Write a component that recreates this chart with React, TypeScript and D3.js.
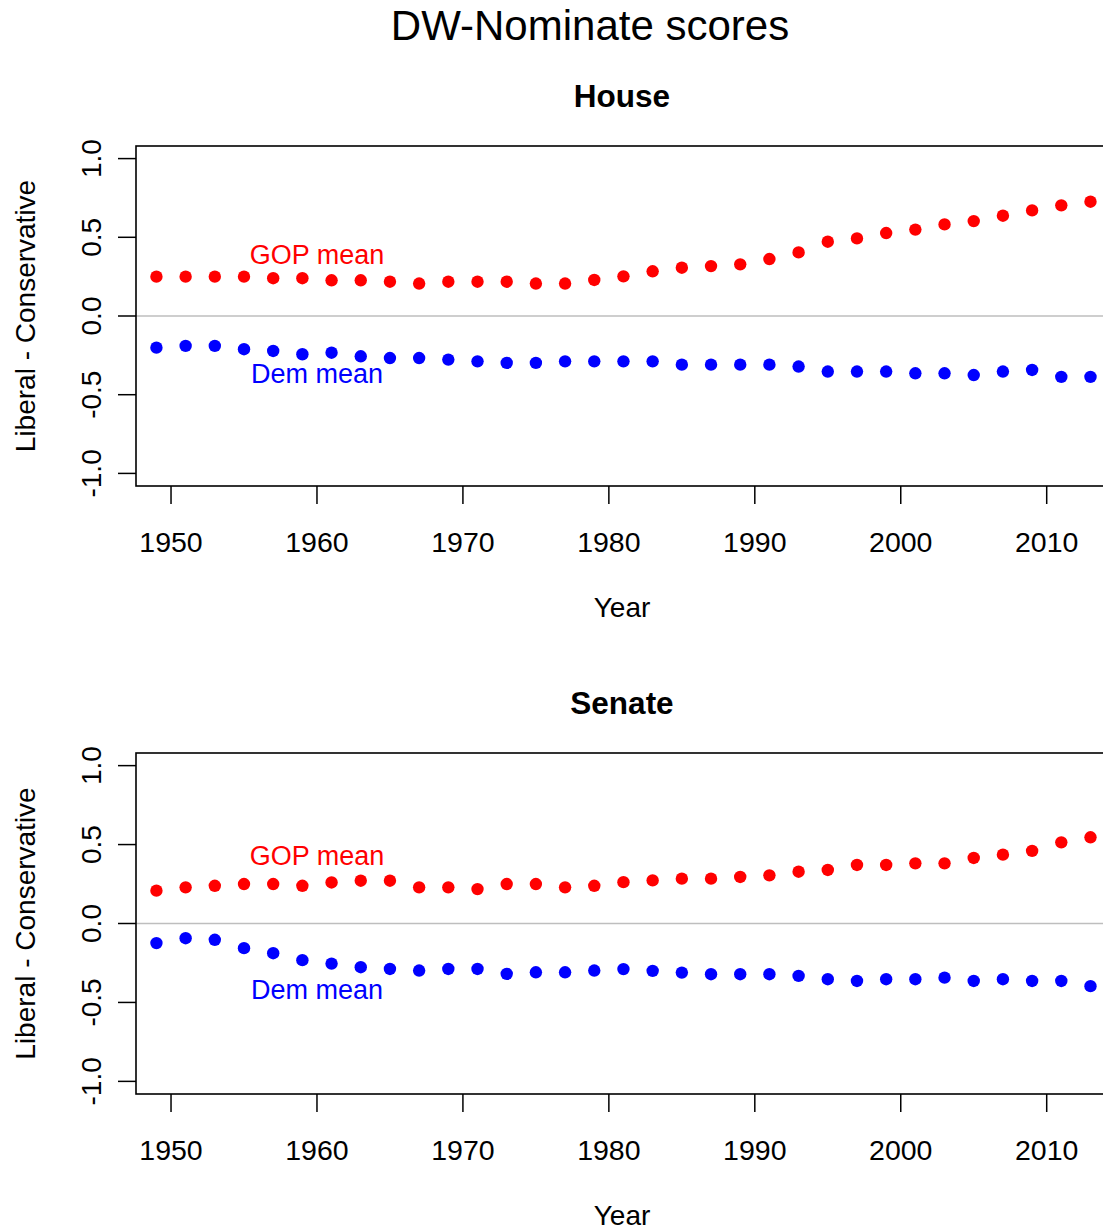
import React from "react";
import * as d3 from "d3";

const years = [1949, 1951, 1953, 1955, 1957, 1959, 1961, 1963, 1965, 1967, 1969, 1971, 1973, 1975, 1977, 1979, 1981, 1983, 1985, 1987, 1989, 1991, 1993, 1995, 1997, 1999, 2001, 2003, 2005, 2007, 2009, 2011, 2013];

const houseGop = [0.25, 0.25, 0.25, 0.25, 0.24, 0.24, 0.227, 0.227, 0.218, 0.206, 0.218, 0.218, 0.218, 0.206, 0.206, 0.229, 0.252, 0.284, 0.307, 0.317, 0.328, 0.362, 0.404, 0.472, 0.493, 0.527, 0.549, 0.582, 0.603, 0.637, 0.671, 0.703, 0.726];
const houseDem = [-0.201, -0.19, -0.19, -0.211, -0.222, -0.243, -0.233, -0.256, -0.267, -0.267, -0.277, -0.288, -0.298, -0.298, -0.288, -0.288, -0.288, -0.288, -0.309, -0.309, -0.309, -0.309, -0.321, -0.353, -0.353, -0.353, -0.364, -0.364, -0.375, -0.353, -0.343, -0.387, -0.387];
const senateGop = [0.208, 0.229, 0.239, 0.25, 0.25, 0.239, 0.26, 0.271, 0.271, 0.229, 0.229, 0.218, 0.25, 0.25, 0.229, 0.239, 0.262, 0.273, 0.284, 0.284, 0.295, 0.305, 0.328, 0.339, 0.371, 0.371, 0.381, 0.381, 0.415, 0.436, 0.46, 0.514, 0.546];
const senateDem = [-0.124, -0.093, -0.103, -0.156, -0.188, -0.232, -0.254, -0.277, -0.288, -0.298, -0.288, -0.288, -0.319, -0.309, -0.309, -0.298, -0.289, -0.3, -0.311, -0.321, -0.321, -0.321, -0.332, -0.353, -0.364, -0.353, -0.353, -0.343, -0.364, -0.353, -0.364, -0.364, -0.397];

const xTicks = [1950, 1960, 1970, 1980, 1990, 2000, 2010];
const yTicks = [-1.0, -0.5, 0.0, 0.5, 1.0];
const panelTitles = ["House", "Senate"];
const gopLabelPos = [[1960, 0.39], [1960, 0.43]];
const demLabelPos = [[1960, -0.362], [1960, -0.417]];

const FONT = "'Liberation Sans', Arial, Helvetica, sans-serif";
const W = 1103;
const H = 1230;
const LEFT = 136;
const RIGHT = 1108;

const panels = [
  { title: panelTitles[0], gop: houseGop, dem: houseDem, top: 146, bottom: 486, gopLab: gopLabelPos[0], demLab: demLabelPos[0] },
  { title: panelTitles[1], gop: senateGop, dem: senateDem, top: 753, bottom: 1094, gopLab: gopLabelPos[1], demLab: demLabelPos[1] },
];

function Panel({ p }: { p: any }) {
  const x = d3.scaleLinear().domain([1947.6, 2014.2]).range([LEFT, RIGHT]);
  const y = d3.scaleLinear().domain([-1.08, 1.08]).range([p.bottom, p.top]);
  const cx = (LEFT + RIGHT) / 2;
  return (
    <g>
      <text x={cx} y={p.top - 39} textAnchor="middle" fontFamily={FONT} fontWeight="bold" fontSize={31.5} fill="#000">{p.title}</text>
      <line x1={LEFT} x2={RIGHT} y1={y(0)} y2={y(0)} stroke="#bebebe" strokeWidth={1.5} />
      {years.map((yr, i) => (
        <circle key={"g" + i} cx={x(yr)} cy={y(p.gop[i])} r={6.2} fill="#ff0000" />
      ))}
      {years.map((yr, i) => (
        <circle key={"d" + i} cx={x(yr)} cy={y(p.dem[i])} r={6.2} fill="#0000ff" />
      ))}
      <text x={x(p.gopLab[0])} y={y(p.gopLab[1])} dy="0.36em" textAnchor="middle" fontFamily={FONT} fontSize={27} fill="#ff0000">GOP mean</text>
      <text x={x(p.demLab[0])} y={y(p.demLab[1])} dy="0.36em" textAnchor="middle" fontFamily={FONT} fontSize={27} fill="#0000ff">Dem mean</text>
      <rect x={LEFT} y={p.top} width={RIGHT - LEFT} height={p.bottom - p.top} fill="none" stroke="#000" strokeWidth={1.6} />
      {xTicks.map((t) => (
        <g key={"xt" + t}>
          <line x1={x(t)} x2={x(t)} y1={p.bottom} y2={p.bottom + 18} stroke="#000" strokeWidth={1.5} />
          <text x={x(t)} y={p.bottom + 66} textAnchor="middle" fontFamily={FONT} fontSize={28.5} fill="#000">{t}</text>
        </g>
      ))}
      {yTicks.map((t) => (
        <g key={"yt" + t}>
          <line x1={LEFT - 18} x2={LEFT} y1={y(t)} y2={y(t)} stroke="#000" strokeWidth={1.5} />
          <text transform={`translate(101,${y(t)}) rotate(-90)`} textAnchor="middle" fontFamily={FONT} fontSize={28} fill="#000">{t.toFixed(1)}</text>
        </g>
      ))}
      <text x={cx} y={p.bottom + 131} textAnchor="middle" fontFamily={FONT} fontSize={28} fill="#000">Year</text>
      <text transform={`translate(35,${(p.top + p.bottom) / 2}) rotate(-90)`} textAnchor="middle" fontFamily={FONT} fontSize={28} fill="#000">Liberal - Conservative</text>
    </g>
  );
}

export default function App() {
  return (
    <svg width={W} height={H} style={{ position: "absolute", left: 0, top: 0, background: "#fff" }}>
      <rect x={0} y={0} width={W} height={H} fill="#fff" />
      <text x={590} y={40} textAnchor="middle" fontFamily={FONT} fontSize={42} fill="#000">DW-Nominate scores</text>
      {panels.map((p, i) => (
        <Panel key={i} p={p} />
      ))}
    </svg>
  );
}
